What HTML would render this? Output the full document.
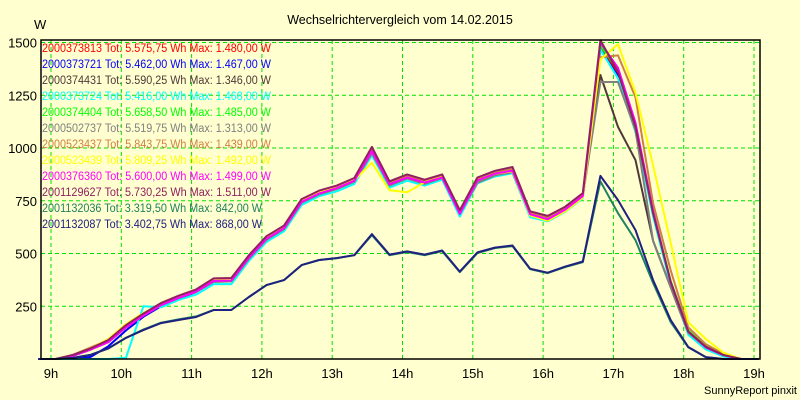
<!DOCTYPE html>
<html><head><meta charset="utf-8"><style>
body{margin:0;background:#ffffd0;}
svg{display:block;font-family:"Liberation Sans",Arial,sans-serif;}
</style></head><body>
<svg id="chart" width="800" height="400" xmlns="http://www.w3.org/2000/svg">
<rect x="0" y="0" width="800" height="400" fill="#ffffd0"/>
<text x="400" y="24" text-anchor="middle" font-size="12.5" fill="#000">Wechselrichtervergleich vom 14.02.2015</text>
<text x="34" y="29" font-size="13" fill="#000">W</text>
<text x="797" y="394" text-anchor="end" font-size="11" fill="#000">SunnyReport pinxit</text>
<g id="grid"></g>
<g id="series"></g>
<g id="legend"></g>
<g id="axes"></g>
</svg>
<script>
const hourTicks=[9,10,11,12,13,14,15,16,17,18,19];
const valueTicks=[250,500,750,1000,1250,1500];
const seriesIds=["2000373813","2000373721","2000374431","2000373724","2000374404","2000502737","2000523437","2000523439","2000376360","2001129627","2001132036","2001132087"];
const seriesTot=["5.575,75","5.462,00","5.590,25","5.416,00","5.658,50","5.519,75","5.843,75","5.809,25","5.600,00","5.730,25","3.319,50","3.402,75"];
const seriesMax=["1.480,00","1.467,00","1.346,00","1.468,00","1.485,00","1.313,00","1.439,00","1.492,00","1.499,00","1.511,00","842,00","868,00"];
const seriesColors=["#ff0000","#0000ff","#503838","#00ffff","#00ff00","#808080","#d08040","#ffff00","#ff00ff","#902060","#208060","#202080"];
const sRed    =[0,0,15,45,80,150,205,255,290,320,370,372,480,570,620,745,785,810,845,985,830,862,838,862,692,848,880,895,688,665,711,774,1480,1354,1090,690,360,130,58,19,0,0];
const sBlue   =[0,0,0,10,60,135,200,250,285,318,368,370,478,568,618,742,782,808,842,980,828,860,835,860,690,845,878,892,686,662,708,772,1467,1340,1080,680,355,125,50,15,0,0];
const sDark   =[0,0,15,45,80,150,205,255,290,320,370,372,480,570,620,745,785,810,845,985,830,862,838,862,692,848,880,895,688,665,711,774,1346,1100,942,560,340,120,50,15,0,0];
const sCyan   =[0,0,0,0,0,5,250,245,280,305,355,355,465,555,605,730,772,795,830,965,812,845,822,850,675,832,865,880,672,652,698,762,1468,1330,1075,675,350,115,45,12,0,0];
const sGreen  =[0,0,15,45,80,150,205,255,290,322,372,375,482,572,622,748,788,812,848,988,832,865,840,865,695,850,885,898,690,668,715,778,1485,1370,1110,700,370,135,60,20,0,0];
const sGray   =[0,0,15,45,80,150,205,255,288,318,365,368,475,565,615,740,780,805,840,975,822,855,830,858,688,835,870,885,685,662,708,770,1313,1313,1084,560,340,125,55,18,0,0];
const sBrown  =[0,0,20,55,90,160,215,265,298,328,378,380,488,578,628,752,792,815,850,990,835,868,842,866,698,852,885,900,692,670,715,778,1430,1439,1240,738,420,150,70,25,0,0];
const sYellow =[0,0,18,50,95,165,218,262,296,326,375,378,486,576,626,750,790,812,848,930,800,790,838,862,690,846,878,890,680,655,700,765,1420,1492,1262,918,550,174,95,30,0,0];
const sMagenta=[0,0,15,45,80,150,205,255,290,320,370,372,480,570,620,745,785,810,845,985,828,860,836,860,688,846,878,893,686,662,708,772,1499,1380,1120,700,365,130,55,18,0,0];
const sMaroon =[0,0,20,50,90,160,215,265,300,330,382,384,492,582,632,758,798,822,858,1005,842,875,850,875,705,860,892,910,700,678,722,786,1511,1360,1100,690,365,130,58,19,0,0];
const sTeal   =[0,0,5,20,50,100,140,172,188,202,232,232,294,350,374,445,469,478,492,587,492,507,492,511,412,502,526,535,426,407,436,459,842,691,563,360,175,55,9,0,0,0];
const sNavy   =[0,0,5,20,50,100,137,170,185,199,232,232,294,350,374,445,469,478,492,592,495,510,495,514,414,505,528,538,428,409,438,462,868,753,611,374,185,57,9,0,0,0];
const seriesValues=[sRed,sBlue,sDark,sCyan,sGreen,sGray,sBrown,sYellow,sMagenta,sMaroon,sTeal,sNavy];
const startHour=8.815, stepHour=0.25;

const NS="http://www.w3.org/2000/svg";
const L=41,R=760,T=40,B=359;
function xS(h){return 51+(h-9)*70.3;}
function yS(v){return B-v*(B-42.5)/1500;}
function mk(tag,attrs,parent){const e=document.createElementNS(NS,tag);for(const k in attrs)e.setAttribute(k,attrs[k]);parent.appendChild(e);return e;}
const grid=document.getElementById('grid'),axes=document.getElementById('axes'),sg=document.getElementById('series'),lg=document.getElementById('legend');
hourTicks.forEach(h=>{
  const x=xS(h);
  const ln=mk('line',{x1:x,x2:x,y1:T,y2:B,stroke:'#00e000','stroke-dasharray':'4,3','stroke-width':1},grid);
  
  
  const t=mk('text',{x:x,y:378,'text-anchor':'middle','font-size':13,fill:'#000'},axes);
  t.textContent=h+'h';
  
  
});
valueTicks.forEach(v=>{
  const y=yS(v);
  const ln=mk('line',{x1:L,x2:R,y1:y,y2:y,stroke:'#00e000','stroke-dasharray':'4,3','stroke-width':1},grid);
  
  
  const t=mk('text',{x:37,y:y+5,'text-anchor':'end','font-size':13,fill:'#000'},axes);
  t.textContent=v;
  
  
});
const frame=mk('path',{d:`M${L},${T}H${R}V${B}H${L}Z`,fill:'none',stroke:'#000','stroke-width':1.5},axes);


seriesValues.forEach((vals,i)=>{
  const pts=vals.map((v,k)=>xS(startHour+k*stepHour).toFixed(1)+','+yS(v).toFixed(1)).join(' ');
  const pl=mk('polyline',{points:pts,fill:'none',stroke:seriesColors[i],'stroke-width':2,'stroke-linejoin':'round'},sg);
  
  
  const t=mk('text',{x:42,y:52+i*16,'font-size':11.5,fill:seriesColors[i]},lg);
  t.textContent=seriesIds[i]+' Tot: '+seriesTot[i]+' Wh Max: '+seriesMax[i]+' W';
  
  
  if(i<10){t.setAttribute('textLength','229');t.setAttribute('lengthAdjust','spacingAndGlyphs');}
  else{t.setAttribute('textLength','220');t.setAttribute('lengthAdjust','spacingAndGlyphs');}
});
</script>
</body></html>
